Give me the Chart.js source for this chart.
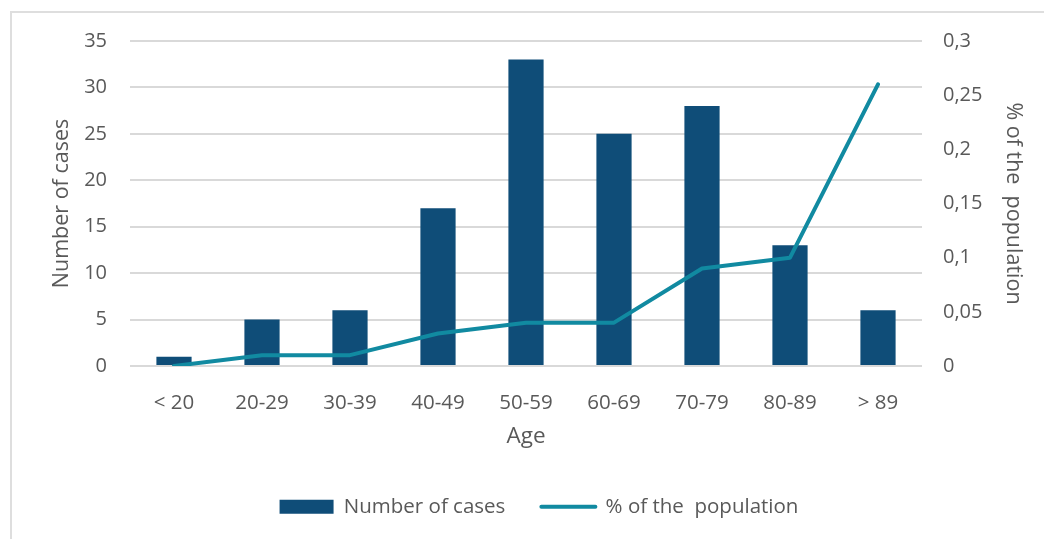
<!DOCTYPE html>
<html>
<head>
<meta charset="utf-8">
<script src="https://cdn.jsdelivr.net/npm/chart.js@4"></script>
<style>
  html, body { margin: 0; padding: 0; background: #fff; overflow: hidden; }
  #frame {
    position: absolute; left: 10px; top: 11px; width: 1100px; height: 600px;
    border-left: 2px solid #dedede; border-top: 2px solid #dedede;
  }
  #wrap { position: absolute; left: 0; top: 0; width: 1044px; height: 539px; }
</style>
</head>
<body>
<div id="frame"></div>
<div id="wrap"><canvas id="ageChart"></canvas></div>
<script>
// Cases per age group and share of the population
const ageGroups = ["< 20", "20-29", "30-39", "40-49", "50-59", "60-69", "70-79", "80-89", "> 89"];
const cases = [1, 5, 6, 17, 33, 25, 28, 13, 6];
const populationShare = [0, 0.01, 0.01, 0.03, 0.04, 0.04, 0.09, 0.1, 0.26];
const shareTicks = ["0", "0,05", "0,1", "0,15", "0,2", "0,25", "0,3"];

const textColor = "#595959";
const gridColor = "#d9d9d9";
const barColor = "#0f4d78";
const lineColor = "#118aa1";
const fontFamily = "'Open Sans', sans-serif";

// the legend sits a bit right of the canvas centre
const legendShift = {
    id: "legendShift",
    afterLayout(chart) {
        chart.legend.left += 17;
        chart.legend.right += 17;
    }
};

new Chart(document.getElementById("ageChart"), {
    type: "bar",
    data: {
        labels: ageGroups,
        datasets: [{
            label: "Number of cases",
            data: cases,
            backgroundColor: barColor,
            yAxisID: "y",
            barPercentage: 0.4,
            categoryPercentage: 1,
            order: 1
        }, {
            type: "line",
            label: "% of the  population",
            data: populationShare,
            borderColor: lineColor,
            backgroundColor: lineColor,
            borderWidth: 4,
            borderCapStyle: "round",
            borderJoinStyle: "round",
            pointRadius: 0,
            tension: 0,
            yAxisID: "y1",
            order: 0
        }]
    },
    plugins: [legendShift],
    options: {
        responsive: true,
        maintainAspectRatio: false,
        animation: false,
        layout: { padding: { top: 41, left: 0, right: 0, bottom: 12 } },
        plugins: {
            tooltip: { enabled: false },
            legend: {
                position: "bottom",
                labels: {
                    color: textColor,
                    font: { family: fontFamily, size: 20.5 },
                    usePointStyle: true,
                    pointStyleWidth: 54,
                    boxHeight: 14,
                    padding: 36,
                    sort: (a, b) => a.datasetIndex - b.datasetIndex,
                    generateLabels(chart) {
                        const items = Chart.defaults.plugins.legend.labels.generateLabels(chart);
                        items.forEach(item => {
                            if (item.datasetIndex === 0) {
                                item.pointStyle = "rect";
                                item.fillStyle = barColor;
                                item.lineWidth = 0;
                            } else {
                                item.pointStyle = "line";
                                item.strokeStyle = lineColor;
                                item.lineWidth = 4;
                                item.lineCap = "round";
                            }
                        });
                        return items;
                    }
                }
            }
        },
        scales: {
            x: {
                grid: { display: false },
                border: { display: false },
                ticks: { color: textColor, font: { family: fontFamily, size: 20.5 }, padding: 17 },
                title: {
                    display: true, text: "Age", color: textColor,
                    font: { family: fontFamily, size: 22.5 }, padding: { top: 0, bottom: 10 }
                },
                afterFit(scale) { scale.height = 94.5; }
            },
            y: {
                position: "left",
                min: 0, max: 35,
                ticks: { stepSize: 5, color: textColor, font: { family: fontFamily, size: 20 }, padding: 23 },
                grid: { color: gridColor, lineWidth: 2, drawTicks: false },
                border: { display: false },
                title: {
                    display: true, text: "Number of cases", color: textColor,
                    font: { family: fontFamily, size: 21.5 }, padding: { top: 49, bottom: 0 }
                },
                afterFit(scale) { scale.width = 130; }
            },
            y1: {
                position: "right",
                min: 0, max: 0.3,
                ticks: {
                    stepSize: 0.05, color: textColor, font: { family: fontFamily, size: 20 }, padding: 21,
                    callback: (value, index) => shareTicks[index]
                },
                grid: { display: false, drawTicks: false },
                border: { display: false },
                title: {
                    display: true, text: "% of the  population", color: textColor,
                    font: { family: fontFamily, size: 21.5 }, padding: { top: 18, bottom: 0 }
                },
                afterFit(scale) { scale.width = 122; }
            }
        }
    }
});
</script>
</body>
</html>
